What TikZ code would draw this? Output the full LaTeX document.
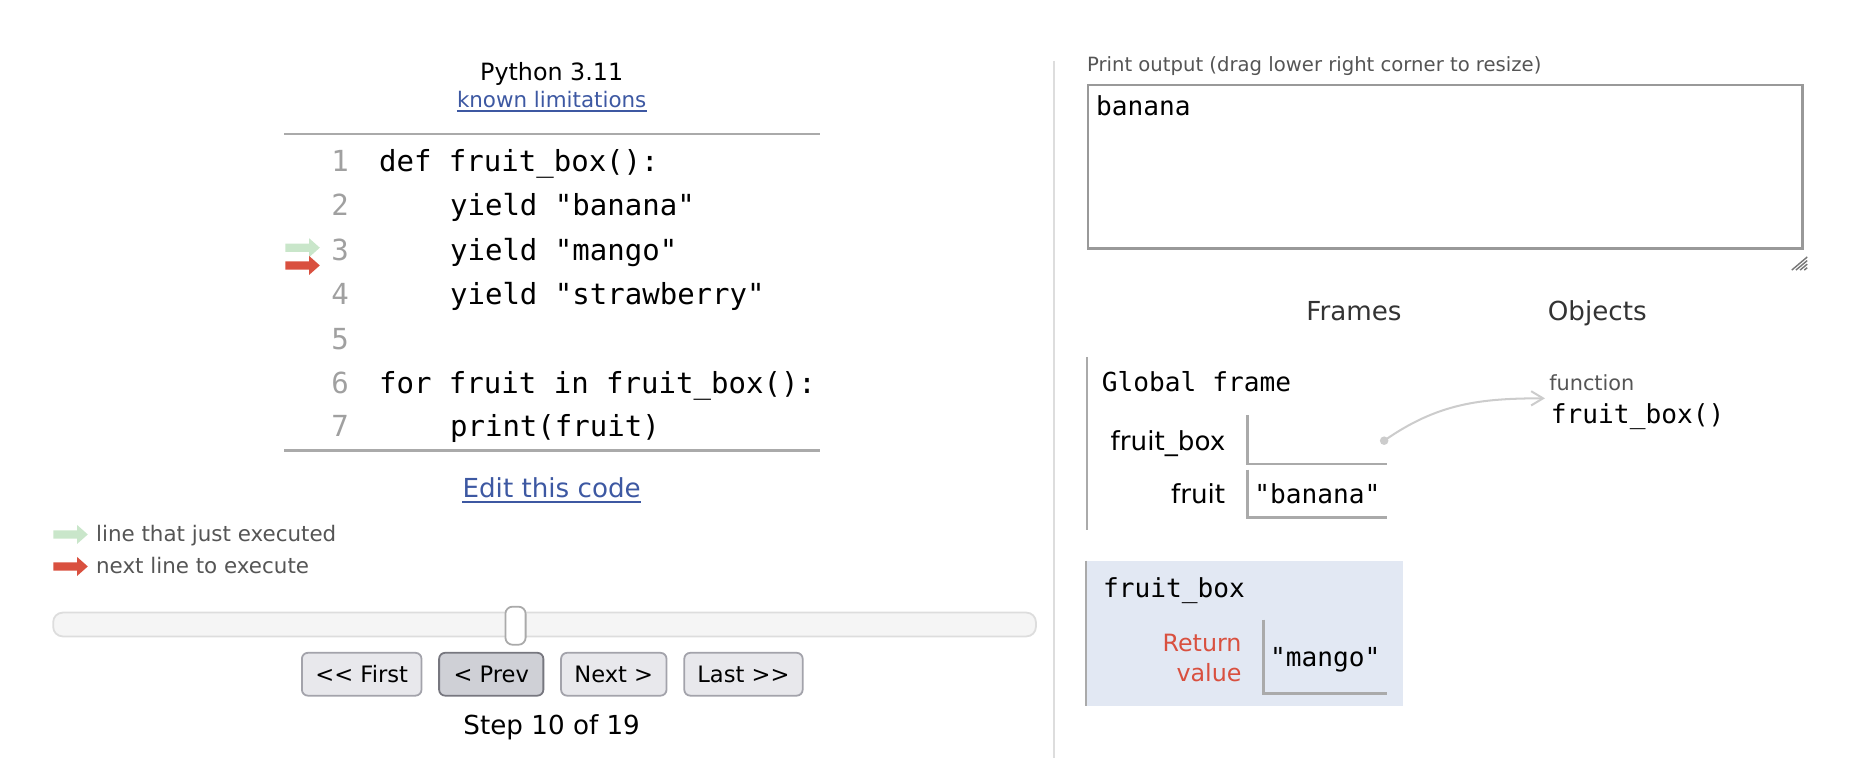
\documentclass[tikz,border=0pt]{standalone}
\usepackage{fontspec}
\setmainfont{DejaVu Sans}
\setmonofont{DejaVu Sans Mono}
\usepackage{tikz}
\usetikzlibrary{arrows.meta}

\definecolor{rulegray}{HTML}{AAAAAA}
\definecolor{boxgray}{HTML}{999999}
\definecolor{numgray}{HTML}{A0A0A0}
\definecolor{linkblue}{HTML}{3D58A2}
\definecolor{legendgray}{HTML}{555555}
\definecolor{headgray}{HTML}{333333}
\definecolor{donegreen}{HTML}{C9E6CA}
\definecolor{nextred}{HTML}{D9503F}
\definecolor{framebg}{HTML}{E2E8F3}
\definecolor{ptrgray}{HTML}{CCCCCC}
\definecolor{btnfill}{HTML}{E8E8EC}
\definecolor{btnedge}{HTML}{A3A3AB}
\definecolor{prevfill}{HTML}{CFD0D6}
\definecolor{prevedge}{HTML}{77777F}
\definecolor{slidefill}{HTML}{F5F5F5}
\definecolor{slideedge}{HTML}{DDDDDD}
\definecolor{divgray}{HTML}{DDDDDD}

\newcommand{\codesize}{\fontsize{24.4}{28}\selectfont\ttfamily}
\newcommand{\vizsize}{\fontsize{22}{26}\selectfont\ttfamily}
\newcommand{\sanssize}[1]{\fontsize{#1}{#1}\selectfont}
\newcommand{\linearrow}[3]{\fill[#1] (#2,#3) ++(0,-3.5) -- ++(20,0) -- ++(0,-4.5) -- ++(9,8) -- ++(-9,8) -- ++(0,-4.5) -- ++(-20,0) -- cycle;}

\begin{document}
\begin{tikzpicture}[x=1pt,y=-1pt,every node/.style={inner sep=0pt}]
	\useasboundingbox (0,0) rectangle (1560,637);

	\begin{scope}[every node/.style={inner sep=0pt,anchor=base}]
	\node (py) at (463.7,67.7) {\sanssize{20}Python 3.11};
	\node[text=linkblue] (lim) at (463.7,90.6) {\sanssize{18}known limitations};
	\node[text=linkblue] (edit) at (463.7,418.3) {\sanssize{22}Edit this code};
	\node (step) at (463.7,617.5) {\sanssize{22}Step 10 of 19};
	\end{scope}
	\draw[linkblue,line width=1.5] ([yshift=-3pt]lim.base west) -- ([yshift=-3pt]lim.base east);
	\draw[linkblue,line width=1.5] ([yshift=-3.5pt]edit.base west) -- ([yshift=-3.5pt]edit.base east);

	\draw[rulegray,line width=2] (238.8,112.5) -- (689.5,112.5);
	\draw[rulegray,line width=2] (238.8,378.5) -- (689.5,378.5);

	\begin{scope}[every node/.style={inner sep=0pt,anchor=base east,text=numgray,font=\codesize}]
	\node (n1) at (293.5,144.4) {1};
	\node (n2) at (293.5,181.3) {2};
	\node (n3) at (293.5,219.1) {3};
	\node (n4) at (293.5,256) {4};
	\node (n5) at (293.5,293.8) {5};
	\node (n6) at (293.5,330.7) {6};
	\node (n7) at (293.5,366.5) {7};
	\end{scope}

	\begin{scope}[every node/.style={inner sep=0pt,anchor=base west,font=\codesize}]
	\node (c1) at (318.4,144.4) {def fruit\_box():};
	\node (c2) at (378.1,181.3) {yield "banana"};
	\node (c3) at (378.1,219.1) {yield "mango"};
	\node (c4) at (378.1,256) {yield "strawberry"};
	\node (c6) at (318.4,330.7) {for fruit in fruit\_box():};
	\node (c7) at (378.1,366.5) {print(fruit)};
	\end{scope}

	\linearrow{donegreen}{239.8}{208.2}
	\linearrow{nextred}{239.8}{223.1}

	\linearrow{donegreen}{44.8}{449.2}
	\linearrow{nextred}{44.8}{476.1}
	\begin{scope}[every node/.style={inner sep=0pt,anchor=base west,text=legendgray,font=\sanssize{18}}]
	\node (done) at (80.6,455.2) {line that just executed};
	\node (next) at (80.6,482.1) {next line to execute};
	\end{scope}

	\node[draw=slideedge,fill=slidefill,line width=1.5,rounded corners=8,minimum width=826,minimum height=20] (slider) at (457.7,524.9) {};
	\node[draw=rulegray,fill=white,line width=1.5,rounded corners=6,minimum width=17,minimum height=32] (knob) at (433.3,525.9) {};

	\begin{scope}[every node/.style={draw=btnedge,fill=btnfill,line width=1.5,rounded corners=5,minimum height=36,inner sep=0pt,font=\sanssize{19}}]
	\node[minimum width=100.5] (first) at (304,566.7) {<{}< First};
	\node[minimum width=87.6,fill=prevfill,draw=prevedge] (prev) at (412.9,566.7) {< Prev};
	\node[minimum width=88.6] (nextbtn) at (515.9,566.7) {Next >};
	\node[minimum width=99.5] (last) at (624.9,566.7) {Last >{}>};
	\end{scope}

	\draw[divgray,line width=2] (886,51) -- (886,637);

	\node[anchor=base west,text=legendgray,font=\sanssize{16.5}] (outlabel) at (913.5,60) {Print output (drag lower right corner to resize)};
	\node[draw=boxgray,line width=2,minimum width=600.6,minimum height=137.4,anchor=north west] (out) at (913.4,70.6) {};
	\node[anchor=base west,font=\vizsize] (outtxt) at (921,97.2) {banana};
	\draw[legendgray!80,line width=1.2] (1506,227) -- (1519,216) (1509.5,227) -- (1519,219) (1513,227) -- (1519,222) (1516.5,227) -- (1519,225);

	\begin{scope}[every node/.style={inner sep=0pt,anchor=base,text=headgray,font=\sanssize{22}}]
	\node (frames) at (1138,269) {Frames};
	\node (objects) at (1342.5,269) {Objects};
	\end{scope}

	\draw[rulegray,line width=2] (913.7,300) -- (913.7,445.5);
	\node[anchor=base west,font=\vizsize] (global) at (926,329) {Global frame};
	\begin{scope}[every node/.style={inner sep=0pt,anchor=base east,font=\sanssize{22}}]
	\node (fbname) at (1030,378.3) {fruit\_box};
	\node (fruitname) at (1030,423) {fruit};
	\end{scope}

	\begin{scope}[every node/.style={inner sep=0pt,font=\vizsize}]
	\node[minimum width=117,minimum height=41.2] (fbcell) at (1107.2,369.4) {};
	\node[minimum width=117,minimum height=39.8] (fruitcell) at (1107.2,414.9) {"banana"};
	\end{scope}
	\draw[rulegray,line width=2] (fbcell.north west) |- (fbcell.south east);
	\draw[rulegray,line width=2] (fruitcell.north west) |- (fruitcell.south east);

	\node[anchor=base west,text=legendgray,font=\sanssize{17.5}] (fnkind) at (1302,327.8) {function};
	\node[anchor=base west,font=\vizsize] (fnobj) at (1303.4,355.8) {fruit\_box()};

	\coordinate (ptr) at (1163.4,370.4);
	\coordinate (objin) at (1298.6,334.8);
	\fill[ptrgray] (ptr) circle (3.6);
	\draw[ptrgray,line width=1.7,-{Straight Barb[length=10pt,width=12pt]}] (ptr) to[out=35,in=180] (objin);

	\node[fill=framebg,minimum width=266,minimum height=122,anchor=north west] (gen) at (913,471.3) {};
	\draw[rulegray,line width=2] (gen.north west) -- (gen.south west);
	\node[anchor=base west,font=\vizsize] (genname) at (927,502) {fruit\_box};
	\node[anchor=east,align=right,text=nextred,font=\fontsize{20}{25.8}\selectfont] (ret) at (1043.7,553) {Return\\value};
	\node[minimum width=103.4,minimum height=61.5,text depth=0pt,font=\vizsize] (retcell) at (1113.9,551.8) {"mango"};
	\draw[rulegray,line width=2] (retcell.north west) |- (retcell.south east);
\end{tikzpicture}
\end{document}
